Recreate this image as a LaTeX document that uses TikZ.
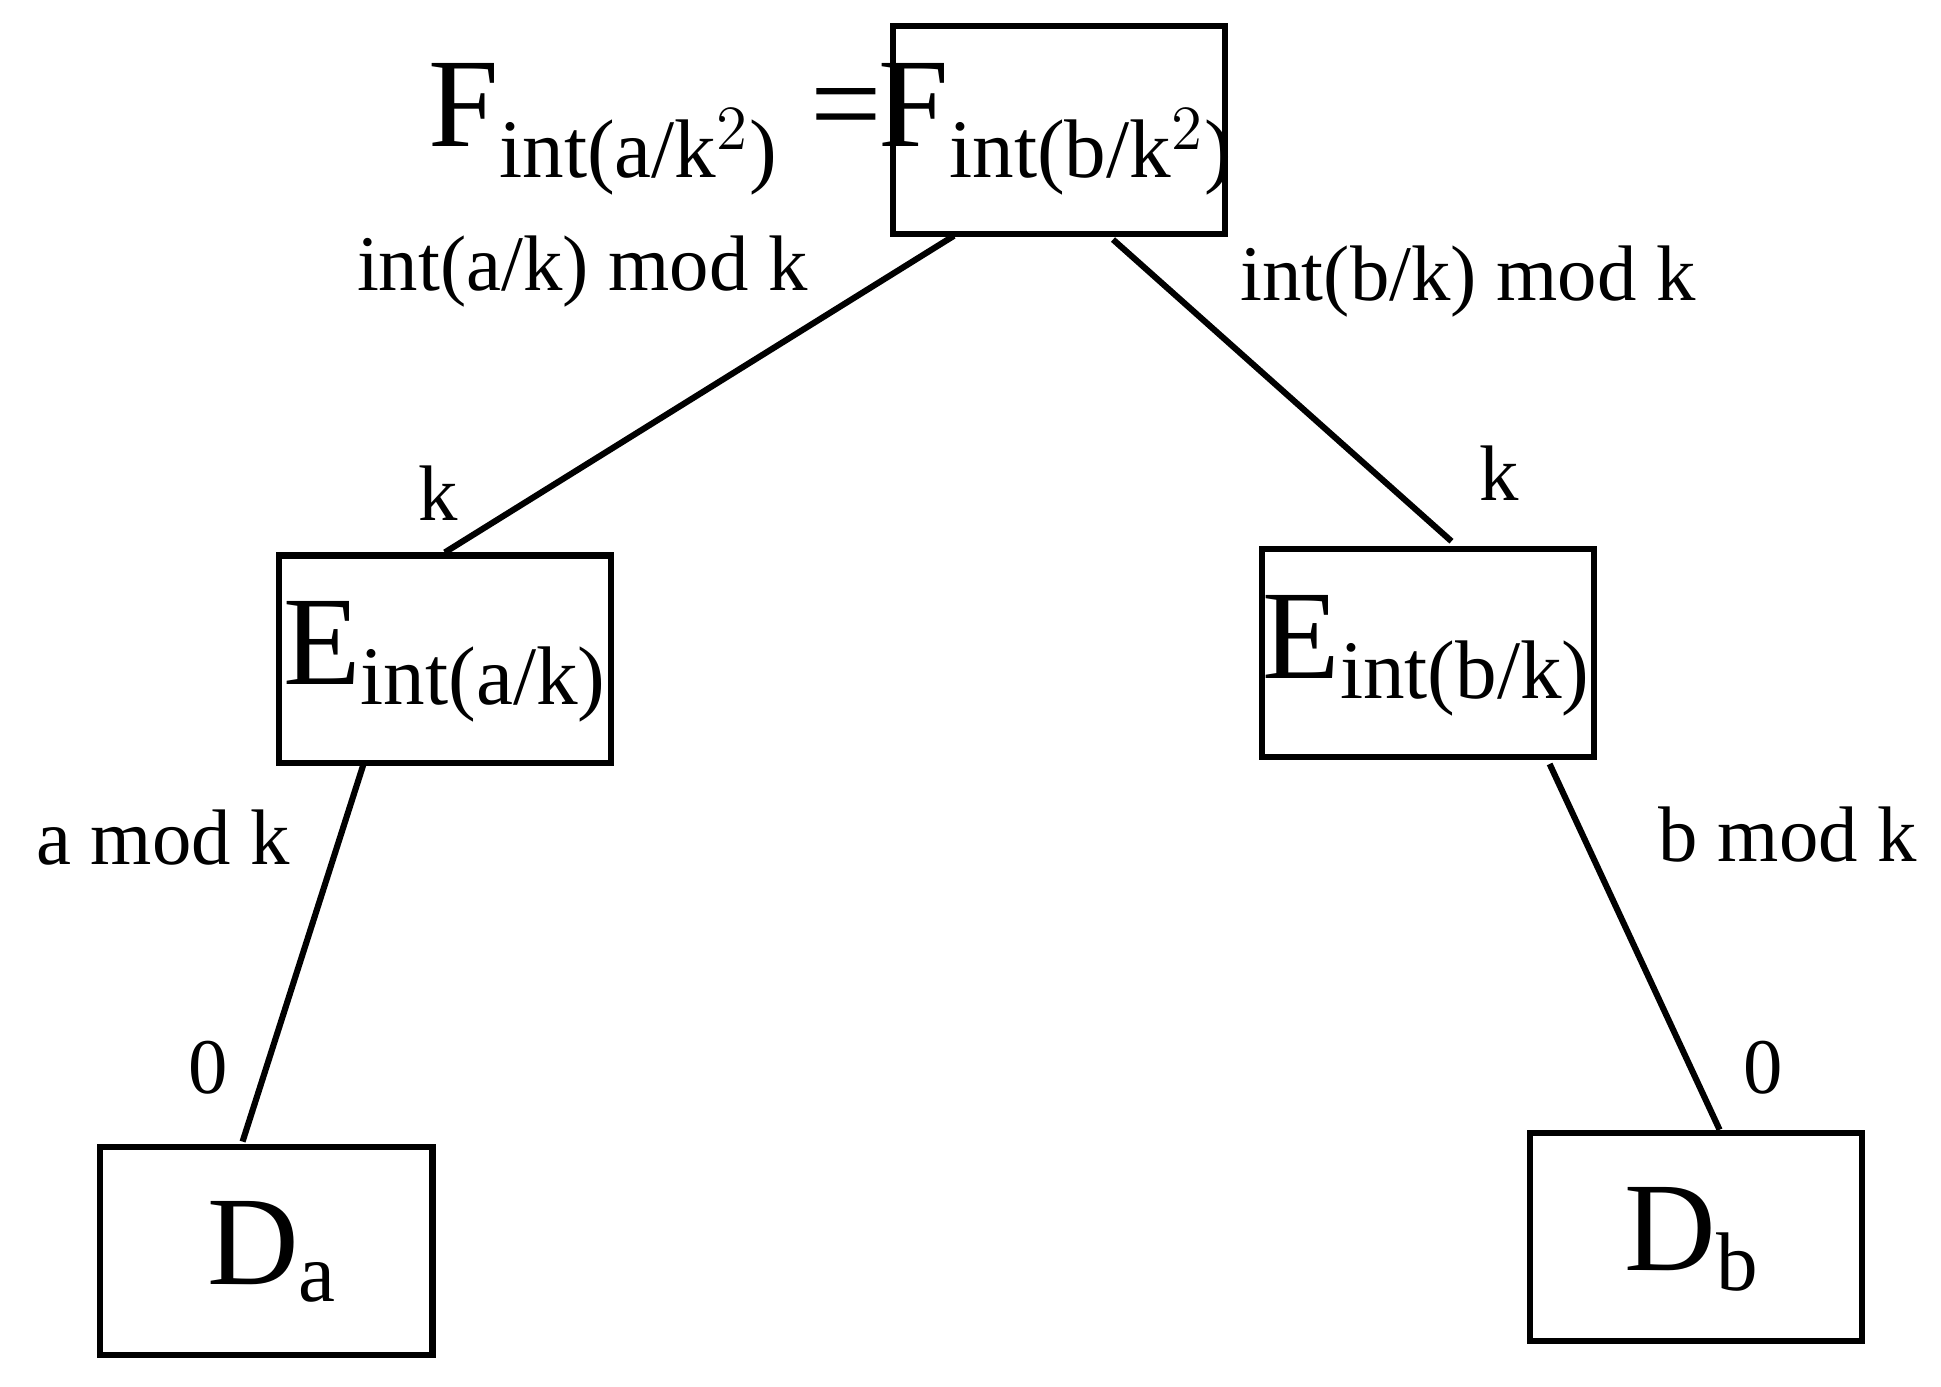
\documentclass[tikz,border=0pt]{standalone}
\usepackage{fontspec}
\setmainfont{Liberation Serif}
\usetikzlibrary{calc}
\begin{document}
\begin{tikzpicture}[x=0.01cm,y=-0.01cm,
  box/.style={draw,line width=1.4pt,minimum width=2.67cm,minimum height=1.67cm,inner sep=0pt},
  big/.style={font=\fontsize{29}{30}\selectfont,inner sep=0pt},
  lab/.style={font=\fontsize{18}{20}\selectfont,inner sep=0pt},
  edge/.style={line width=1.4pt}]
\useasboundingbox (0,0) rectangle (1560,1114);
\node[box] (F) at (851,104.5) {};
\node[box] (Ea) at (357.5,530) {};
\node[box] (Eb) at (1147.5,525) {};
\node[box] (Da) at (214,1005.5) {};
\node[box] (Db) at (1363,994) {};
\node[big] (tF) at (849,104) {F$_{\mbox{\fontsize{19}{20}\selectfont int(b/k$^2$)}}$};
\node[big,anchor=east] (tFa) at (710,104) {F$_{\mbox{\fontsize{19}{20}\selectfont int(a/k$^2$)}}$ =};
\node[big] (tEa) at (358,532) {E$_{\mbox{\fontsize{19}{20}\selectfont int(a/k)}}$};
\node[big] (tEb) at (1147,527) {E$_{\mbox{\fontsize{19}{20}\selectfont int(b/k)}}$};
\node[big] (tDa) at (219,1006) {D$_{\mbox{\fontsize{19}{20}\selectfont a}}$};
\node[big] (tDb) at (1360,996) {D$_{\mbox{\fontsize{19}{20}\selectfont b}}$};
\coordinate (f1) at ($(F.south west)!0.19!(F.south east)+(0,-1)$);
\coordinate (f2) at ($(F.south west)!0.66!(F.south east)+(0,2)$);
\coordinate (e1) at (Ea.north);
\coordinate (e2) at ($(Eb.north west)!0.57!(Eb.north east)+(0,-4)$);
\coordinate (e3) at ($(Ea.south west)!0.26!(Ea.south east)+(0,-2)$);
\coordinate (e4) at ($(Eb.south west)!0.86!(Eb.south east)+(0,3)$);
\coordinate (d1) at ($(Da.north west)!0.43!(Da.north east)+(0,-2)$);
\coordinate (d2) at ($(Db.north west)!0.57!(Db.north east)$);
\draw[edge] (f1) -- (e1);
\draw[edge] (f2) -- (e2);
\draw[edge] (e3) -- (d1);
\draw[edge] (e4) -- (d2);
\node[lab] (l1) at (468,218) {int(a/k) mod k};
\node[lab] (l2) at (1180,226) {int(b/k) mod k};
\node[lab] (l3) at (352,396) {k};
\node[lab] (l4) at (1205,380) {k};
\node[lab] (l5) at (131,673) {a mod k};
\node[lab] (l6) at (1437,671) {b mod k};
\node[lab] (l7) at (167,858) {0};
\node[lab] (l8) at (1417,858) {0};
\end{tikzpicture}
\end{document}
